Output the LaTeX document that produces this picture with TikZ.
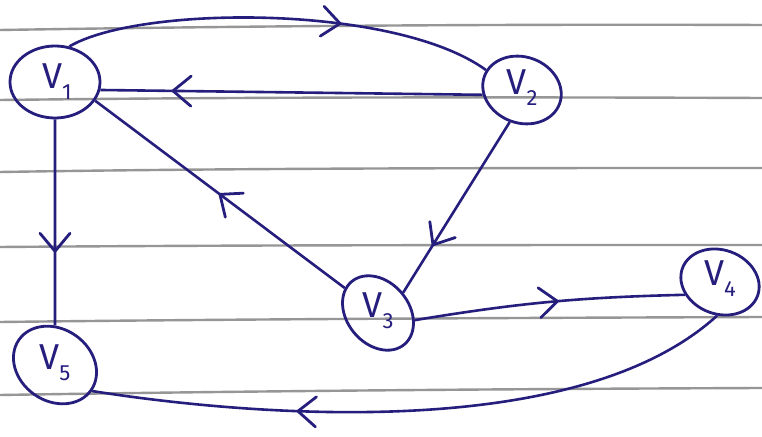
\documentclass[tikz,border=0pt]{standalone}
\usepackage{fontspec}
\setmainfont{Fira Sans}
\usetikzlibrary{decorations.markings,shapes.geometric}
\definecolor{ink}{RGB}{38,30,125}
\definecolor{rulegray}{RGB}{150,150,150}
\tikzset{
  vertex/.style={draw=ink, line width=2.8pt, ellipse, inner sep=0pt},
  vlabel/.style={text=ink, font=\fontsize{36}{36}\selectfont, inner sep=0pt},
  link/.style={draw=ink, line width=2.6pt},
  midarrow/.style={postaction={decorate}, decoration={markings,
      mark=at position #1 with {\draw[ink, line width=2.8pt, line cap=round, line join=round]
        (-18pt,15pt) -- (0pt,0pt) -- (-18pt,-15pt);}}},
  ruling/.style={draw=rulegray, line width=2.4pt}
}
\newcommand{\vname}[1]{V\raisebox{-0.3em}{\fontsize{22}{22}\selectfont #1}}
\begin{document}
\begin{tikzpicture}[x=1pt,y=1pt]
\useasboundingbox[fill=white] (0,0) rectangle (762,436);

% ruled paper
\draw[ruling] (0,406) .. controls (250,410) and (500,412) .. (762,411);
\draw[ruling] (0,336) .. controls (250,339) and (500,339) .. (762,338);
\draw[ruling] (0,264) .. controls (250,268) and (500,268) .. (762,268);
\draw[ruling] (0,189) .. controls (250,191) and (500,191) .. (762,191);
\draw[ruling] (0,114) .. controls (250,117) and (500,118) .. (762,119);
\draw[ruling] (0,41) .. controls (250,45) and (500,47) .. (762,48);

% vertices
\node[vertex, minimum width=90pt, minimum height=72pt] (v1) at (55,354) {};
\node[vertex, minimum width=80pt, minimum height=66pt, rotate=-20] (v2) at (522,346) {};
\node[vertex, minimum width=82pt, minimum height=62pt, rotate=-50] (v3) at (378,123) {};
\node[vertex, minimum width=80pt, minimum height=64pt, rotate=-20] (v4) at (720,154) {};
\node[vertex, minimum width=88pt, minimum height=72pt, rotate=-35] (v5) at (55,71) {};

\node[vlabel] (l1) at (57,354) {\vname{1}};
\node[vlabel] (l2) at (522,348) {\vname{2}};
\node[vlabel] (l3) at (378,125) {\vname{3}};
\node[vlabel] (l4) at (720,157) {\vname{4}};
\node[vlabel] (l5) at (55,73) {\vname{5}};

% arcs
\draw[link, midarrow=0.64] (v1.68) .. controls (140,431) and (395,432) .. (v2.171);
\draw[link, midarrow=0.81] (v2.207) -- (v1.-10);
\draw[link, midarrow=0.5] (v3) -- (v1.-25);
\draw[link, midarrow=0.72] (v2.269) -- (v3.89);
\draw[link, midarrow=0.64] (v1.270) -- (v5);
\draw[link, midarrow=0.53] (v3.39) to[bend left=4] (v4.220);
\draw[link, midarrow=0.68] (v4.285) .. controls (571,-13) and (224,24) .. (v5.0);
\end{tikzpicture}
\end{document}
